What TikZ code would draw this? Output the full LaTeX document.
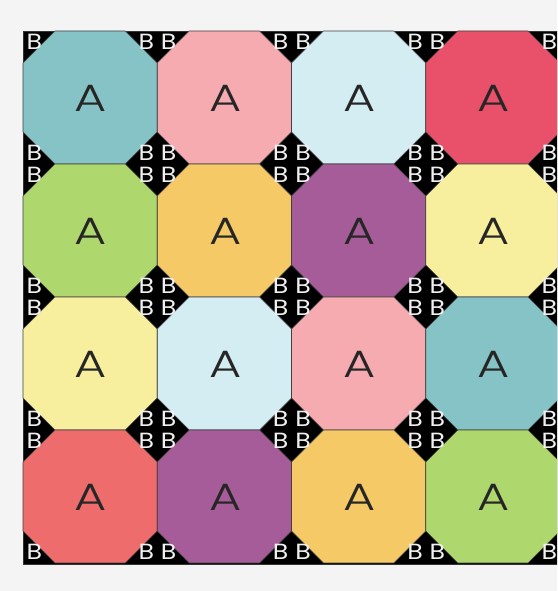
\documentclass[tikz,border=0pt]{standalone}
\usepackage{fontspec}
\setmainfont{Poppins}
\newfontfamily\thinfont{Poppins Light}
\usetikzlibrary{calc}
\definecolor{bgpaper}{HTML}{F4F4F4}
\definecolor{tealA}{HTML}{86C3C6}
\definecolor{pinkA}{HTML}{F5ABB0}
\definecolor{skyA}{HTML}{D3EDF3}
\definecolor{roseA}{HTML}{E9506A}
\definecolor{greenA}{HTML}{AED86E}
\definecolor{goldA}{HTML}{F5C966}
\definecolor{plumA}{HTML}{A65C98}
\definecolor{creamA}{HTML}{F7EF9E}
\definecolor{salmonA}{HTML}{EE6C6C}
\newcommand{\wideA}{\scalebox{1.3}[1]{A}}
\newcommand{\wideB}{\scalebox{1.15}[1]{B}}
\tikzset{octa/.style={draw=black!75,line width=0.6pt},
  letterA/.style={font=\thinfont\fontsize{38}{38}\selectfont,text=black!85,inner sep=0pt},
  letterB/.style={font=\fontsize{22}{22}\selectfont,text=gray!12,inner sep=0pt}}
\begin{document}
\begin{tikzpicture}[x=1pt,y=1pt,line join=round]
\useasboundingbox (0,0) rectangle (557,591);
\fill[bgpaper] (0,0) rectangle (557,591);
\clip (0,0) rectangle (557,591);
% --- black backing showing through the cut corners
\filldraw[fill=black,draw=black!80,line width=0.8pt] (23,27) rectangle (560,560);
% --- 4x4 octagon blocks, one A and four corner Bs each
\foreach \r/\c/\col in {1/1/tealA,1/2/pinkA,1/3/skyA,1/4/roseA,
  2/1/greenA,2/2/goldA,2/3/plumA,2/4/creamA,
  3/1/creamA,3/2/skyA,3/3/pinkA,3/4/tealA,
  4/1/salmonA,4/2/plumA,4/3/goldA,4/4/greenA}{
\begin{scope}[shift={({23+(\c-1)*134.25},{560-(\r-1)*133})}]
\filldraw[octa,fill=\col] (32,0) -- (102.25,0) -- (134.25,-32) -- (134.25,-101) -- (102.25,-133) -- (32,-133) -- (0,-101) -- (0,-32) -- cycle;
\node[letterA] (a\r\c) at (68,-67) {\wideA};
\node[letterB] (b\r\c nw) at (11.5,-11) {\wideB}; \node[letterB] (b\r\c ne) at (123.5,-11) {\wideB};
\node[letterB] (b\r\c sw) at (11.5,-122) {\wideB}; \node[letterB] (b\r\c se) at (123.5,-122) {\wideB};
\end{scope}}
\end{tikzpicture}
\end{document}
